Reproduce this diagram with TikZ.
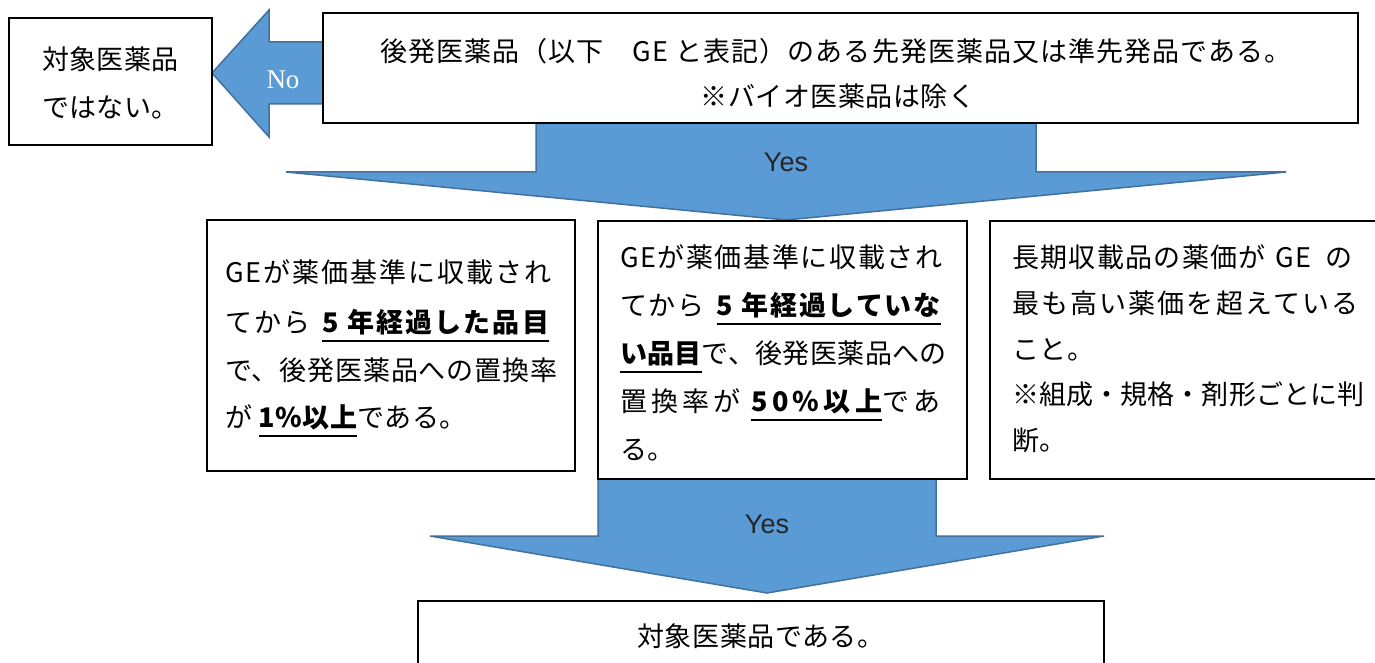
\documentclass[tikz,border=0pt]{standalone}
\usepackage{fontspec}
\setmainfont{Noto Sans CJK JP}
\newfontfamily\yesfont{Liberation Sans}
\newfontfamily\nofont{Liberation Serif}
\definecolor{arrowfill}{HTML}{5B9BD5}
\definecolor{arrowedge}{HTML}{41719C}
\newcommand\myul[1]{{\bfseries\setbox0\hbox{#1}\rlap{\vrule height -7.5pt depth 9.5pt width \wd0}\box0}}
\newcommand\lsp[1]{\addfontfeature{LetterSpace=#1}}
\begin{document}
\begin{tikzpicture}[x=1pt,y=-1pt,
  box/.style={draw=black,line width=2.2pt,fill=white,inner sep=0pt},
  blockarrow/.style={fill=arrowfill,draw=arrowedge,line width=1.5pt,line join=miter},
  txt/.style={inner sep=0pt,outer sep=0pt,font=\fontsize{27pt}{32pt}\selectfont,anchor=base west},
  ctxt/.style={txt,anchor=base},
  yeslabel/.style={inner sep=0pt,font=\yesfont\fontsize{27pt}{30pt}\selectfont,text=black!85},
  nolabel/.style={inner sep=0pt,font=\nofont\fontsize{27pt}{30pt}\selectfont,text=white}]
\useasboundingbox (0,0) rectangle (1375,663);
\clip (0,0) rectangle (1375,663);
\fill[white] (0,0) rectangle (1375,663);

% named arrow tips
\coordinate (noTip) at (212,73);
\coordinate (tipA) at (786,220);
\coordinate (tipB) at (767,593);

% block arrows
\draw[blockarrow] (323,42) -- (269,42) -- (269,10) -- (noTip) -- (269,137) -- (269,104) -- (323,104) -- cycle;
\draw[blockarrow] (536,123) -- (536,172) -- (286,172) -- (tipA) -- (1286,172) -- (1036,172) -- (1036,123) -- cycle;
\draw[blockarrow] (598,479) -- (598,536) -- (430,536) -- (tipB) -- (1104,536) -- (936,536) -- (936,479) -- cycle;

% boxes
\node[box,minimum width=203pt,minimum height=127pt] (notbox) at (110.5,81.5) {};
\node[box,minimum width=1035pt,minimum height=110pt] (topbox) at (840.5,68) {};
\node[box,minimum width=368pt,minimum height=251pt] (b1) at (391,345.5) {};
\node[box,minimum width=369pt,minimum height=258pt] (b2) at (782.5,350) {};
\node[box,minimum width=395pt,minimum height=258pt] (b3) at (1187.5,350) {};
\node[box,minimum width=686pt,minimum height=99pt] (endbox) at (761,650.5) {};

% labels on arrows
\node[nolabel] (no) at (283,80) {No};
\node[yeslabel] (yes1) at (786,162) {Yes};
\node[yeslabel] (yes2) at (767,524) {Yes};

% texts
\node[txt] (n1) at (42,70) {\lsp{1.5}対象医薬品};
\node[txt] (n2) at (42,118) {\lsp{1.5}ではない。};

\node[ctxt] (t1) at (836,62) {\lsp{4}後発医薬品（以下　GE と表記）のある先発医薬品又は準先発品である。};
\node[ctxt] (t2) at (838,107) {\lsp{2}※バイオ医薬品は除く};

\node[txt] (a1) at (225,282) {\lsp{7.5}GEが薬価基準に収載され};
\node[txt] (a2) at (225,332) {\lsp{8}てから\hspace{12pt}\myul{5 年経過した品目}};
\node[txt] (a3) at (225,380) {\lsp{3.2}で、後発医薬品への置換率};
\node[txt] (a4) at (225,427) {\lsp{2}が \myul{1\%以上}である。};

\node[txt] (c1) at (620,267) {\lsp{6}GEが薬価基準に収載され};
\node[txt] (c2) at (620,315) {\lsp{7}てから\hspace{12pt}\myul{5 年経過していな}};
\node[txt] (c3) at (620,363) {\lsp{1.5}\myul{い品目}で、後発医薬品への};
\node[txt] (c4) at (620,411) {\lsp{16}置換率が \myul{50\%以上}であ};
\node[txt] (c5) at (620,459) {\lsp{2}る。};

\node[txt] (d1) at (1012,267) {\lsp{5}長期収載品の薬価が\hspace{10pt}GE\hspace{14pt}の};
\node[txt] (d2) at (1012,313) {\lsp{8}最も高い薬価を超えている};
\node[txt] (d3) at (1012,359) {\lsp{2}こと。};
\node[txt] (d4) at (1012,404) {\lsp{0.5}※組成・規格・剤形ごとに判};
\node[txt] (d5) at (1012,450) {\lsp{2}断。};

\node[ctxt] (e1) at (761,646) {\lsp{2}対象医薬品である。};
\end{tikzpicture}
\end{document}
